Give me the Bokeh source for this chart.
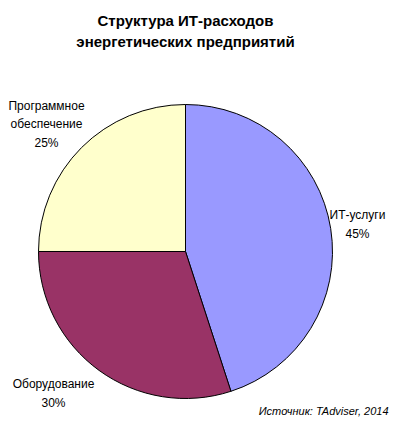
import math
from bokeh.plotting import figure
from bokeh.models import Range1d, ColumnDataSource
from bokeh.core.properties import value
from bokeh.embed import file_html
from bokeh.resources import INLINE

# ---- data ----
categories = ["ИТ-услуги", "Оборудование", "Программное\nобеспечение"]
shares = [45, 30, 25]
colors = ["#9999FF", "#993366", "#FFFFCC"]
title_lines = ["Структура ИТ-расходов", "энергетических предприятий"]
source_note = "Источник: TAdviser, 2014"

# ---- layout (screen px of the 400x425 window) ----
W, H = 400, 425
CX, CY, R = 185, 251, 147
label_xy = [(357, 224), (53, 393), (46, 124)]
FONT = "Liberation Sans"

def sy(y):
    return H - y

p = figure(width=W, height=H, output_backend="svg",
           toolbar_location=None, x_range=Range1d(0, W),
           y_range=Range1d(0, H), min_border=0)
p.axis.visible = False
p.grid.visible = False
p.outline_line_color = None
p.background_fill_color = "white"
p.border_fill_color = "white"

total = sum(shares)
starts, ends = [], []
acc = 0.0
for s in shares:
    a0 = math.pi / 2 - 2 * math.pi * acc / total
    acc += s
    a1 = math.pi / 2 - 2 * math.pi * acc / total
    starts.append(a0)
    ends.append(a1)

src = ColumnDataSource(dict(start=starts, end=ends, color=colors))
p.wedge(x=CX, y=sy(CY), radius=R, start_angle="start", end_angle="end",
        direction="clock", fill_color="color", line_color="black",
        line_width=1, source=src)

lab_text = [f"{c}\n{s}%" for c, s in zip(categories, shares)]
p.text(x=[xy[0] for xy in label_xy], y=[sy(xy[1]) for xy in label_xy],
       text=lab_text, text_font=value(FONT), text_font_size="12px",
       text_align="center", text_baseline="middle", text_line_height=1.33,
       text_color="black")

p.text(x=[CX, CX], y=[sy(20), sy(41)], text=title_lines,
       text_font=value(FONT), text_font_size="15px", text_font_style="bold",
       text_align="center", text_baseline="middle", text_color="black")

p.text(x=[388], y=[sy(410)], text=[source_note], text_font=value(FONT),
       text_font_size="11px", text_font_style="italic", text_align="right",
       text_baseline="middle", text_color="black")

open("out.html", "w").write(file_html(p, INLINE))
